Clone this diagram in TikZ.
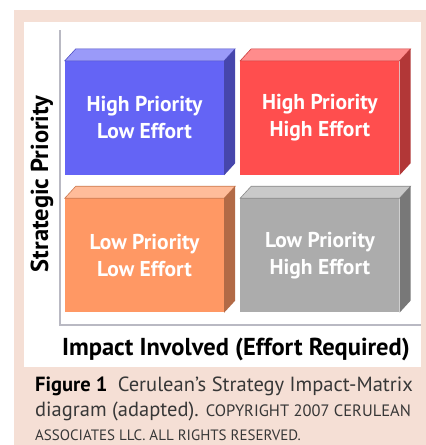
\documentclass[tikz,border=0pt]{standalone}
\usepackage{fontspec}
\setmainfont{PT Sans}
\usetikzlibrary{positioning}
\definecolor{bgpink}{RGB}{245,223,213}
\definecolor{axisgray}{RGB}{185,185,195}
\definecolor{blue1}{RGB}{100,100,245}
\definecolor{red1}{RGB}{255,78,78}
\definecolor{orange1}{RGB}{255,152,100}
\definecolor{gray1}{RGB}{172,172,172}
\definecolor{captext}{RGB}{55,55,55}

\begin{document}
\begin{tikzpicture}[x=1pt, y=-1pt,
    cell/.style={minimum width=159pt, minimum height=114pt, inner sep=0pt, align=center,
      text=white, font=\fontsize{21.5}{27}\selectfont\bfseries},
    axis/.style={draw=axisgray, line width=2pt},
    axlabel/.style={font=\fontsize{24.5}{28}\selectfont\bfseries, text=black, inner sep=0pt}]
  \useasboundingbox (0,0) rectangle (426,445);
  % background and panel
  \fill[bgpink] (14,10) rectangle (426,445);
  \fill[white] (24,22) rectangle (421,367);

  % axes
  \coordinate (ytop) at (60,30);
  \coordinate (origin) at (60,325);
  \coordinate (xend) at (421,325);
  \draw[axis] (ytop) -- (origin) -- (xend);

  % the four cells
  \node[cell, fill=blue1] (hilo) at (144.5,118) {High Priority\\Low Effort};
  \node[cell, fill=red1, right=16pt of hilo] (hihi) {High Priority\\High Effort};
  \node[cell, fill=orange1, below=23pt of hilo] (lolo) {Low Priority\\Low Effort};
  \node[cell, fill=gray1, below=23pt of hihi] (lohi) {Low Priority\\High Effort};

  % top and side faces
  \foreach \n/\c in {hilo/blue1, hihi/red1, lolo/orange1, lohi/gray1} {
    \fill[\c!65!white, draw=\c!80!black, line width=0.6pt]
      (\n.north west) -- ++(11,-12) -- ([shift={(11,-12)}]\n.north east) -- (\n.north east) -- cycle;
    \fill[\c!70!black]
      (\n.north east) -- ++(11,-12) -- ([shift={(11,-12)}]\n.south east) -- (\n.south east) -- cycle;
  }

  % axis labels
  \node[axlabel, rotate=90] (ylabel) at (42,184) {Strategic Priority};
  \node[axlabel] (xlabel) at (236,349) {Impact Involved (Effort Required)};

  % caption
  \node[anchor=north west, inner sep=0pt, align=left, text=captext,
    font=\fontsize{20.5}{24.5}\selectfont] (caption) at (35,377)
    {{\color{black}\bfseries Figure 1}\enspace Cerulean’s Strategy Impact-Matrix\\
     diagram (adapted). {\fontsize{16.5}{24.5}\selectfont COPYRIGHT 2007 CERULEAN}\\
     {\fontsize{15}{24.5}\selectfont ASSOCIATES LLC. ALL RIGHTS RESERVED.}};
\end{tikzpicture}
\end{document}
